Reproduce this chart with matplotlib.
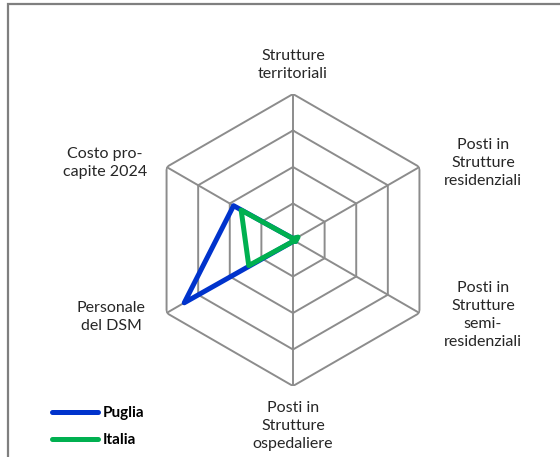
import numpy as np
import matplotlib
matplotlib.use("Agg")
import matplotlib.pyplot as plt
from matplotlib.patches import Rectangle

plt.rcParams['font.family'] = ['Lato', 'DejaVu Sans']

# categories, clockwise from the top
categories = ["Strutture\nterritoriali",
              "Posti in\nStrutture\nresidenziali",
              "Posti in\nStrutture\nsemi-\nresidenziali",
              "Posti in\nStrutture\nospedaliere",
              "Personale\ndel DSM",
              "Costo pro-\ncapite 2024"]
puglia = [0.01, 0.03, 0.02, 0.01, 0.86, 0.47]
italia = [0.01, 0.04, 0.02, 0.01, 0.35, 0.41]
ring_levels = [0.25, 0.5, 0.75, 1.0]
series_names = ["Puglia", "Italia"]

# label anchors in axes coordinates
label_pos = [(0.5, 1.099), (1.151, 0.764), (1.151, 0.243),
             (0.5, -0.137), (-0.122, 0.236), (-0.144, 0.764)]

fig = plt.figure(figsize=(5.6, 4.57), dpi=100)
ax = fig.add_axes([147/560, 71/457, 292/560, 292/457], projection='polar')
ax.set_theta_offset(np.pi/2)
ax.set_theta_direction(-1)
ax.set_ylim(0, 1)
ax.grid(False)
ax.spines['polar'].set_visible(False)
ax.set_xticks([])
ax.set_yticks([])
ax.patch.set_alpha(0)

n = len(categories)
theta = np.arange(n) * 2*np.pi/n
theta_c = np.append(theta, theta[0])

grid_col = '#8c8c8c'
for lvl in ring_levels:
    ax.plot(theta_c, [lvl]*(n+1), color=grid_col, lw=1.4, zorder=1)
for t in theta:
    ax.plot([t, t], [0, 1], color=grid_col, lw=1.4, zorder=1)

colors = ['#0033CC', '#00B050']
for vals, name, col in zip([puglia, italia], series_names, colors):
    ax.plot(theta_c, vals + vals[:1], color=col, lw=3.6, label=name,
            solid_joinstyle='round', solid_capstyle='round', zorder=3)

for lab, (x, y) in zip(categories, label_pos):
    ax.text(x, y, lab, transform=ax.transAxes, ha='center', va='center',
            fontsize=11.5, color='#262626', linespacing=1.35)

leg = fig.legend(loc='center left', bbox_to_anchor=(52/560, 1 - 426.5/457),
                 frameon=False, borderpad=0, borderaxespad=0,
                 handlelength=3.0, handletextpad=0.35, labelspacing=0.85,
                 prop={'weight': 'bold', 'size': 11})

# outer frame of the original figure box
fig.patches.append(Rectangle((8/560, -0.05), 1.1, 1 - 4/457 + 0.05,
                             transform=fig.transFigure, fill=False,
                             edgecolor='#7f7f7f', lw=1.6))

fig.savefig("out.png", dpi=100)
